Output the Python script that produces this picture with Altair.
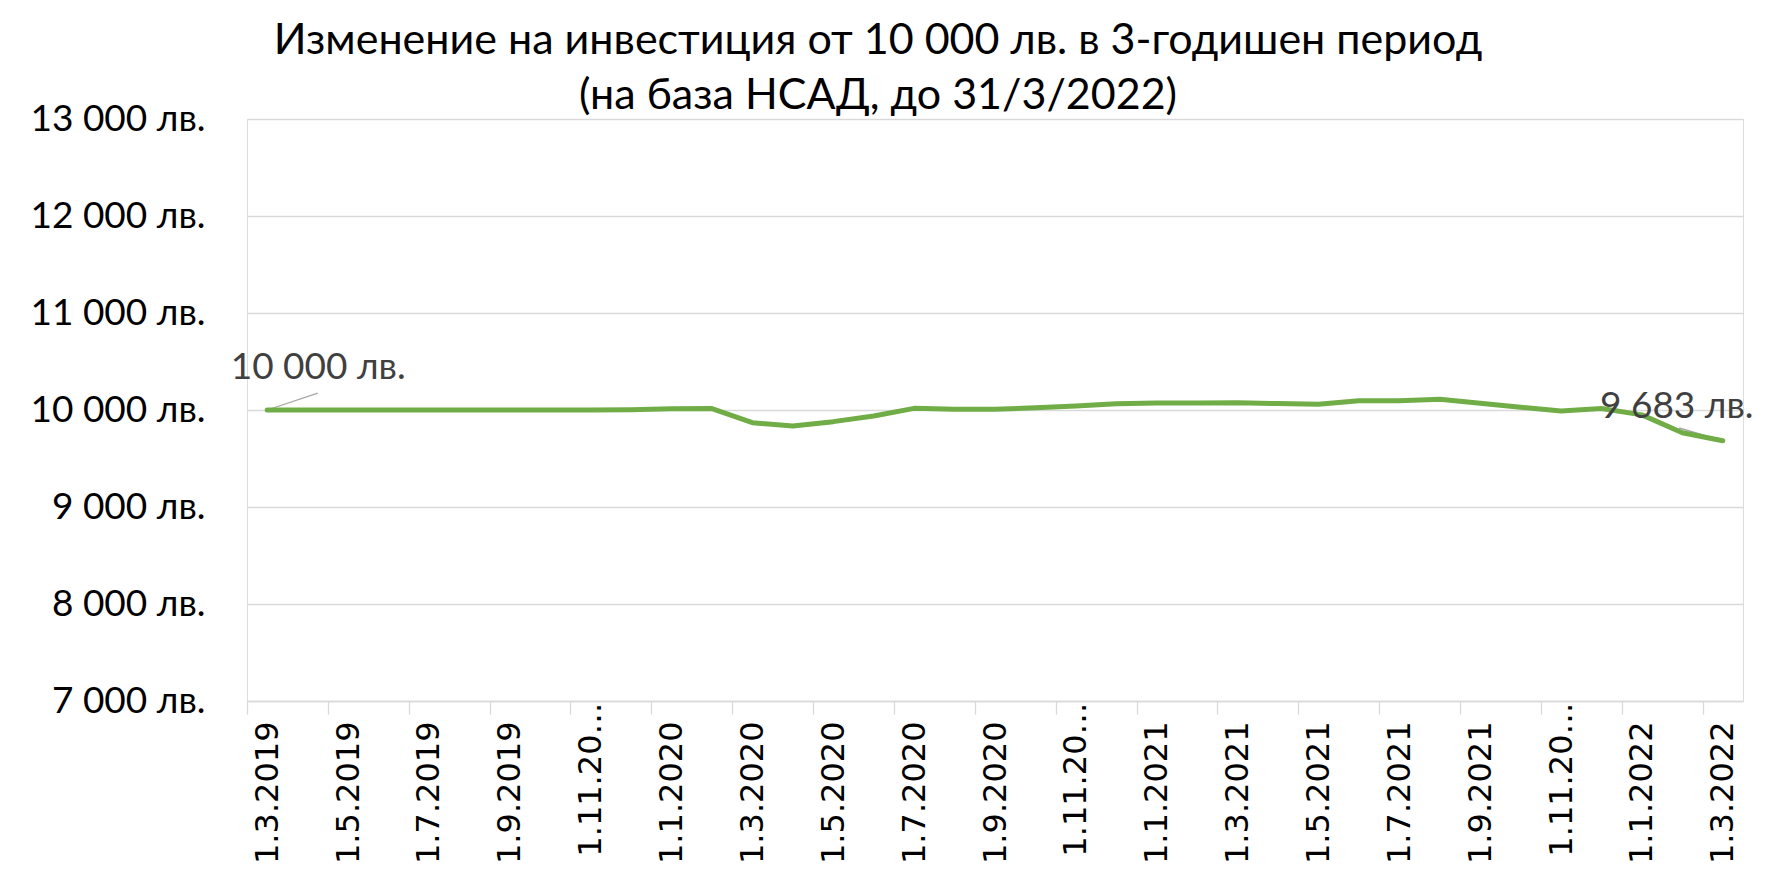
import json
import altair as alt
import pandas as pd

TITLE = ["Изменение на инвестиция от 10 000 лв. в 3-годишен период",
         "(на база НСАД, до 31/3/2022)"]

MONTHS = ["1.3.2019", "1.4.2019", "1.5.2019", "1.6.2019", "1.7.2019", "1.8.2019",
          "1.9.2019", "1.10.2019", "1.11.2019", "1.12.2019", "1.1.2020", "1.2.2020",
          "1.3.2020", "1.4.2020", "1.5.2020", "1.6.2020", "1.7.2020", "1.8.2020",
          "1.9.2020", "1.10.2020", "1.11.2020", "1.12.2020", "1.1.2021", "1.2.2021",
          "1.3.2021", "1.4.2021", "1.5.2021", "1.6.2021", "1.7.2021", "1.8.2021",
          "1.9.2021", "1.10.2021", "1.11.2021", "1.12.2021", "1.1.2022", "1.2.2022",
          "1.3.2022"]

VALUES = [10000, 10000, 10000, 10000, 10000, 10000, 10000, 10000, 10000, 10003,
          10013, 10015, 9869, 9835, 9880, 9938, 10017, 10007, 10007, 10024,
          10041, 10065, 10072, 10072, 10074, 10066, 10059, 10096, 10096, 10110,
          10070, 10029, 9990, 10015, 9950, 9766, 9683]

TICK_LABELS = ["1.3.2019", "1.5.2019", "1.7.2019", "1.9.2019", "1.11.20…",
               "1.1.2020", "1.3.2020", "1.5.2020", "1.7.2020", "1.9.2020",
               "1.11.20…", "1.1.2021", "1.3.2021", "1.5.2021", "1.7.2021",
               "1.9.2021", "1.11.20…", "1.1.2022", "1.3.2022"]

Y_TICKS = [7000, 8000, 9000, 10000, 11000, 12000, 13000]

df = pd.DataFrame({"month": MONTHS, "value": VALUES, "idx": list(range(len(MONTHS)))})

GREEN = "#70AD47"
GRID = "#D9D9D9"
N = len(MONTHS)
PLOT_W = 1496
PLOT_H = 582
half_band = PLOT_W / N / 2

label_expr_x = json.dumps(TICK_LABELS, ensure_ascii=False) + "[round(datum.value / 2)]"
money_expr = "replace(format(datum.value, ','), ',', ' ') + ' лв.'"

x_enc = alt.X(
    "idx:Q",
    scale=alt.Scale(domain=[-0.5, N - 0.5], nice=False, zero=False),
    axis=alt.Axis(
        values=list(range(0, N, 2)),
        labelExpr=label_expr_x,
        title=None,
        grid=False,
        domainColor=GRID,
        domainWidth=1.3,
        tickColor=GRID,
        tickWidth=1.3,
        tickSize=13,
        tickOffset=-half_band,
        labelOffset=half_band,
        labelAngle=270,
        labelAlign="right",
        labelBaseline="middle",
        labelFont="DejaVu Sans",
        labelFontSize=32,
        labelColor="black",
        labelPadding={"condition": {"test": "datum.value == 8 || datum.value == 20 || datum.value == 32",
                                    "value": -12},
                      "value": 7},
        labelOverlap=False,
        labelFlush=False,
        labelLimit=400,
    ),
)

y_enc = alt.Y(
    "value:Q",
    scale=alt.Scale(domain=[7000, 13000], nice=False, zero=False),
    axis=alt.Axis(
        values=Y_TICKS,
        labelExpr=money_expr,
        title=None,
        domain=False,
        ticks=False,
        grid=True,
        gridColor=GRID,
        gridWidth=1.3,
        labelFont="Lato",
        labelFontSize=37,
        labelColor="black",
        labelPadding=42,
    ),
)

base = alt.Chart(df)

leader_first = base.transform_filter("datum.idx == 0").transform_calculate(
    x2="datum.idx + 1.25", y2="datum.value + 175"
).mark_rule(color="#A6A6A6", strokeWidth=1.3).encode(
    x=x_enc, y=y_enc, x2="x2:Q", y2="y2:Q"
)

leader_last = base.transform_filter(f"datum.idx == {N - 1}").transform_calculate(
    x2="datum.idx - 1.08", y2="datum.value + 131"
).mark_rule(color="#A6A6A6", strokeWidth=1.6).encode(
    x=x_enc, y=y_enc, x2="x2:Q", y2="y2:Q"
)

line = base.mark_line(color=GREEN, strokeWidth=5, strokeCap="round",
                      strokeJoin="round").encode(x=x_enc, y=y_enc)

label_first = base.transform_filter("datum.idx == 0").transform_calculate(
    lbl=money_expr
).mark_text(font="Lato", fontSize=37, color="#404040", align="center",
            baseline="middle", dx=51, dy=-42).encode(x=x_enc, y=y_enc, text="lbl:N")

label_last = base.transform_filter(f"datum.idx == {N - 1}").transform_calculate(
    lbl=money_expr
).mark_text(font="Lato", fontSize=37, color="#404040", align="center",
            baseline="middle", dx=-46, dy=-34).encode(x=x_enc, y=y_enc, text="lbl:N")

chart = alt.layer(leader_first, leader_last, line, label_first, label_last).properties(
    width=PLOT_W,
    height=PLOT_H,
    padding={"left": 239, "top": 111, "right": 30, "bottom": 164},
    autosize=alt.AutoSizeParams(type="none"),
    title=alt.TitleParams(
        text=TITLE,
        font="Lato",
        fontSize=43,
        fontWeight="normal",
        color="black",
        anchor="middle",
        dx=-117,
        dy=22,
        lineHeight=55,
        offset=4,
    ),
).configure_view(stroke=None).configure(background="white")

chart.save("out.html", embed_options={"renderer": "svg", "actions": False})
